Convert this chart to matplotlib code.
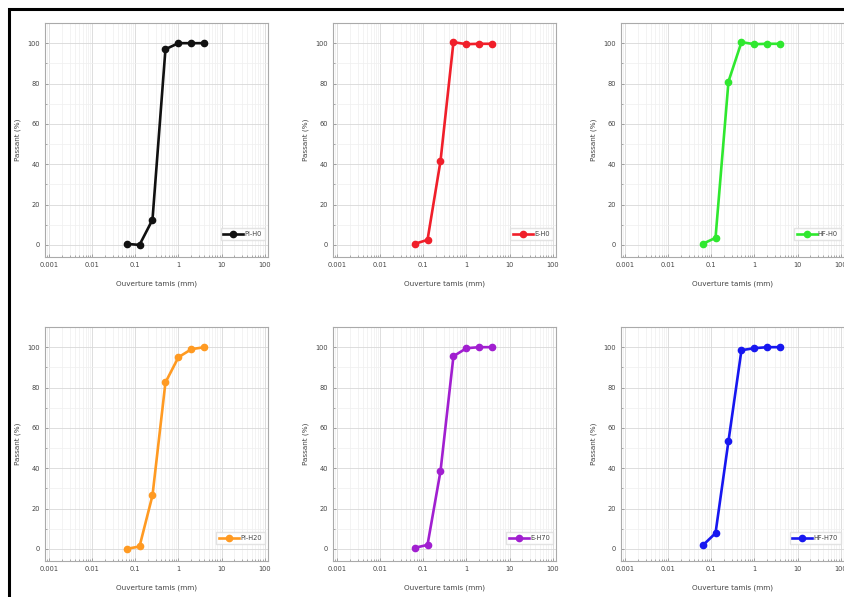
import matplotlib
matplotlib.use("Agg")
import matplotlib.pyplot as plt
from matplotlib.patches import Rectangle
from matplotlib.ticker import LogLocator, FixedLocator, MultipleLocator, NullFormatter

# ouvertures des tamis (mm)
tamis = [0.063, 0.125, 0.25, 0.5, 1, 2, 4]

labels = ["PI-H0", "E-H0", "HF-H0", "PI-H20", "E-H70", "HF-H70"]
couleurs = ["#111111", "#f01f2a", "#2fe82f", "#ff9a22", "#a11fd0", "#1717f0"]

pi_h0 = [0.5, 0, 12.5, 97, 100, 100, 100]
e_h0 = [0.5, 2.5, 41.5, 100.5, 99.5, 99.7, 99.7]
hf_h0 = [0.5, 3.5, 81, 100.5, 99.5, 99.7, 99.7]
pi_h20 = [0, 1.2, 26.5, 82.5, 95, 99, 100]
e_h70 = [0.5, 2, 38.5, 95.5, 99.5, 100, 100]
hf_h70 = [1.7, 7.8, 53.5, 98.5, 99.5, 100, 100]

series = [pi_h0, e_h0, hf_h0, pi_h20, e_h70, hf_h70]

W, H = 845, 597
fig = plt.figure(figsize=(W / 100, H / 100), dpi=100)

# cadre noir (haut et gauche visibles)
fig.patches.append(Rectangle((9 / W, -0.05), 1.1, 1 - 9 / H + 0.05, transform=fig.transFigure,
                             fill=False, edgecolor="black", linewidth=2.2))

lefts = [45, 333, 621]
tops = [23, 327]
aw, ah = 223, 234

for i, (vals, lab, col) in enumerate(zip(series, labels, couleurs)):
    r, c = divmod(i, 3)
    ax = fig.add_axes([lefts[c] / W, 1 - (tops[r] + ah) / H, aw / W, ah / H])
    ax.plot(tamis, vals, "-o", color=col, lw=1.9, ms=4.5, label=lab)
    ax.set_xscale("log")
    ax.set_xlim(0.0008, 120)
    ax.set_ylim(-6, 110)
    ax.xaxis.set_major_locator(FixedLocator([0.001, 0.01, 0.1, 1, 10, 100]))
    ax.set_xticklabels(["0.001", "0.01", "0.1", "1", "10", "100"])
    ax.xaxis.set_minor_locator(LogLocator(base=10, subs=range(2, 10)))
    ax.xaxis.set_minor_formatter(NullFormatter())
    ax.yaxis.set_major_locator(FixedLocator([0, 20, 40, 60, 80, 100]))
    ax.yaxis.set_minor_locator(MultipleLocator(10))
    ax.grid(True, which="major", color="#d8d8d8", lw=0.6)
    ax.grid(True, which="minor", color="#efefef", lw=0.5)
    ax.tick_params(which="both", direction="in", labelsize=4.8, colors="#888888", labelcolor="#444444",
                   length=2.5, width=0.5)
    ax.tick_params(which="minor", length=1.5)
    for s in ax.spines.values():
        s.set_color("#aaaaaa")
        s.set_linewidth(0.8)
    ax.set_xlabel("Ouverture tamis (mm)", fontsize=5.2, color="#444444", labelpad=9)
    ax.set_ylabel("Passant (%)", fontsize=5.2, color="#444444", labelpad=5)
    ax.legend(loc="lower right", bbox_to_anchor=(1.0, 0.06), fontsize=4.8, frameon=True,
              edgecolor="#dddddd", fancybox=False, handlelength=3, borderpad=0.4,
              handletextpad=0.2, labelcolor="#444444")

fig.savefig("out.png", dpi=100)
